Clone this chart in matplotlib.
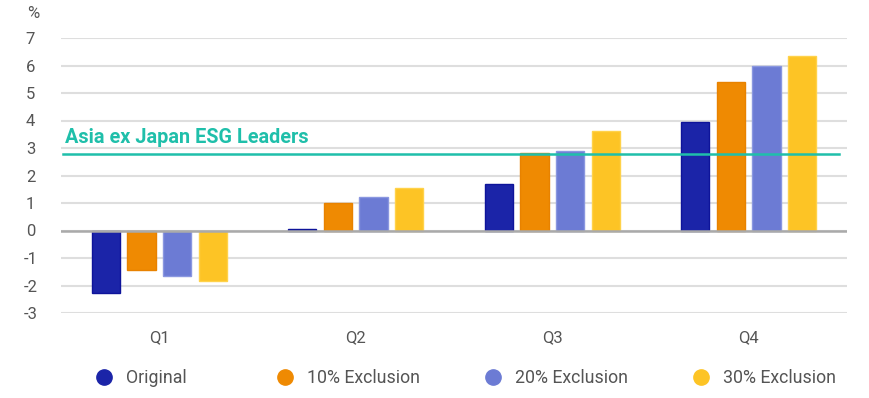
import matplotlib
matplotlib.use("Agg")
import matplotlib.pyplot as plt
from matplotlib.lines import Line2D
import numpy as np

plt.rcParams['font.family'] = ['Roboto', 'DejaVu Sans']

categories = ["Q1", "Q2", "Q3", "Q4"]
series_names = ["Original", "10% Exclusion", "20% Exclusion", "30% Exclusion"]
original = [-2.27, 0.05, 1.70, 3.94]
excl10 = [-1.42, 1.01, 2.82, 5.41]
excl20 = [-1.67, 1.21, 2.89, 5.98]
excl30 = [-1.84, 1.54, 3.62, 6.33]
benchmark_value = 2.79
benchmark_label = "Asia ex Japan ESG Leaders"
yticks = [-3, -2, -1, 0, 1, 2, 3, 4, 5, 6, 7]

colors = ["#1b24a8", "#ef8a02", "#6c7bd4", "#fdc425"]
edges = ["#0e149a", "#e88200", "#8a97e0", "#ffd24a"]
teal = "#1fbfaa"
txt = "#555555"

W, H = 870, 398
fig = plt.figure(figsize=(W / 100, H / 100), dpi=100)
ax = fig.add_axes([61 / W, 1 - 313 / H, (847 - 61) / W, (313 - 38) / H])

x = np.arange(len(categories))
step = 0.1815
width = 0.145
data = [original, excl10, excl20, excl30]
for i, vals in enumerate(data):
    ax.bar(x + (i - 1.5) * step, vals, width, color=colors[i],
           edgecolor=edges[i], linewidth=1.0, zorder=3, label=series_names[i])

ax.set_xlim(-0.5, len(categories) - 0.5)
ax.set_ylim(-3, 7)
ax.set_yticks(yticks)
ax.set_yticklabels([str(t) for t in yticks])
ax.set_xticks(x)
ax.set_xticklabels(categories)
ax.tick_params(axis='both', length=0, labelsize=12, labelcolor=txt)
ax.tick_params(axis='y', pad=22)
ax.tick_params(axis='x', pad=12)
for lab in ax.get_yticklabels():
    lab.set_horizontalalignment('center')
ax.grid(axis='y', color="#dedede", linewidth=1.5, zorder=0)
ax.axhline(0, color="#aaaaaa", linewidth=1.8, zorder=4)
for s in ax.spines.values():
    s.set_visible(False)

ax.axhline(benchmark_value, xmin=0.002, xmax=0.99, color=teal, linewidth=1.8, zorder=5)
ax.text(-0.482, benchmark_value + 0.23, benchmark_label, color=teal,
        fontsize=14.3, fontweight='bold', va='bottom', ha='left', zorder=6)

fig.text(33 / W, 1 - 14 / H, "%", fontsize=12, color=txt, ha='center', va='center')

marker_x = [104, 285, 493, 701]
fs = 12.8
half_handle = fs * 100 / 72 / 2
for i, name in enumerate(series_names):
    h = Line2D([], [], marker='o', linestyle='none', markersize=11,
               markerfacecolor=colors[i], markeredgecolor=colors[i])
    leg = fig.legend(handles=[h], labels=[name], loc='center left',
                     bbox_to_anchor=((marker_x[i] - half_handle) / W, 1 - 378 / H),
                     frameon=False, borderpad=0, borderaxespad=0,
                     handlelength=1.0, handletextpad=0.74, fontsize=fs)
    for t in leg.get_texts():
        t.set_color(txt)

fig.savefig("out.png", dpi=100)
